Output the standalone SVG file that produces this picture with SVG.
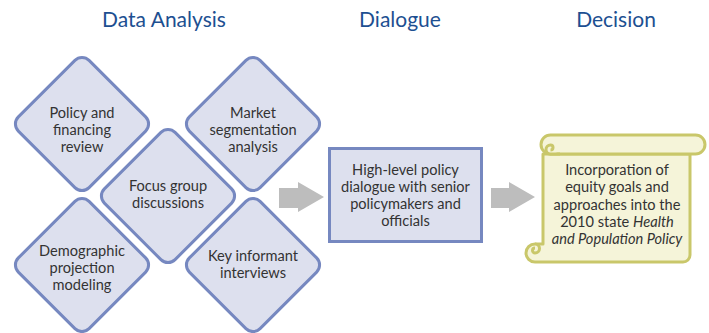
<svg xmlns="http://www.w3.org/2000/svg" width="709" height="333" viewBox="0 0 709 333">
<style>
.title{font-family:Lato,"Liberation Sans",sans-serif;font-size:21px;fill:#1d4f91;text-anchor:middle}
.lbl{font-family:Lato,"Liberation Sans",sans-serif;font-size:14.6px;fill:#333333;text-anchor:middle}
.dia{fill:#dde0ee;stroke:#7688c0;stroke-width:3}
.arr{fill:#bdbdbd}
.scr{fill:#f5f4d9;stroke:#c9c76a;stroke-width:3;stroke-linejoin:round}
</style>
<defs>
<rect id="dshape" x="-50" y="-50" width="100" height="100" rx="10" ry="10" transform="rotate(45)"/>
</defs>
<rect width="709" height="333" fill="#ffffff"/>
<g id="titles">
<text class="title" x="164" y="27">Data Analysis</text>
<text class="title" x="400" y="27">Dialogue</text>
<text class="title" x="616" y="27">Decision</text>
</g>
<g id="policy">
<use href="#dshape" class="dia" transform="translate(82,124)"/>
<text class="lbl" x="82" y="117.5">Policy and</text>
<text class="lbl" x="82" y="134.5">financing</text>
<text class="lbl" x="82" y="151.5">review</text>
</g>
<g id="market">
<use href="#dshape" class="dia" transform="translate(253,124)"/>
<text class="lbl" x="253" y="117.5">Market</text>
<text class="lbl" x="253" y="134.5">segmentation</text>
<text class="lbl" x="253" y="151.5">analysis</text>
</g>
<g id="focus">
<use href="#dshape" class="dia" transform="translate(168,196)"/>
<text class="lbl" x="168" y="191">Focus group</text>
<text class="lbl" x="168" y="208">discussions</text>
</g>
<g id="demographic">
<use href="#dshape" class="dia" transform="translate(82,265)"/>
<text class="lbl" x="82" y="256">Demographic</text>
<text class="lbl" x="82" y="273">projection</text>
<text class="lbl" x="82" y="290">modeling</text>
</g>
<g id="keyinformant">
<use href="#dshape" class="dia" transform="translate(253,265)"/>
<text class="lbl" x="253" y="261">Key informant</text>
<text class="lbl" x="253" y="278">interviews</text>
</g>
<g id="connectors">
<polygon class="arr" points="279,188 298,188 298,182 324,197 298,212 298,208 279,208"/>
<polygon class="arr" points="491,188 509,188 509,182 535,197 509,212 509,208 491,208"/>
</g>
<g id="dialogue">
<rect x="329.5" y="148.5" width="152" height="93" fill="#dde0ee" stroke="#7688c0" stroke-width="3"/>
<text class="lbl" x="405.5" y="175">High-level policy</text>
<text class="lbl" x="405.5" y="192">dialogue with senior</text>
<text class="lbl" x="405.5" y="209">policymakers and</text>
<text class="lbl" x="405.5" y="226">officials</text>
</g>
<g id="decision">
<path class="scr" d="M543,154 H690 V255 A7,7 0 0 1 683,262 H535 A9,9 0 0 1 535,244 H543 Z"/>
<path class="scr" d="M535,244 A4.5,4.5 0 0 1 535,253 A2.5,2.5 0 0 1 535,248" fill="none"/>
<path class="scr" d="M550.5,135 H695.5 A9.5,9.5 0 0 1 695.5,154 H550.5 A9.5,9.5 0 0 1 550.5,135 Z"/>
<path class="scr" d="M560,154 H550.5 A4.5,4.5 0 0 1 550.5,145 A2.5,2.5 0 0 1 550.5,150" fill="none"/>
<text class="lbl" x="617" y="175">Incorporation of</text>
<text class="lbl" x="617" y="192">equity goals and</text>
<text class="lbl" x="617" y="209.5">approaches into the</text>
<text class="lbl" x="617" y="226.5">2010 state <tspan font-style="italic">Health</tspan></text>
<text class="lbl" x="617" y="244" font-style="italic">and Population Policy</text>
</g>
</svg>
